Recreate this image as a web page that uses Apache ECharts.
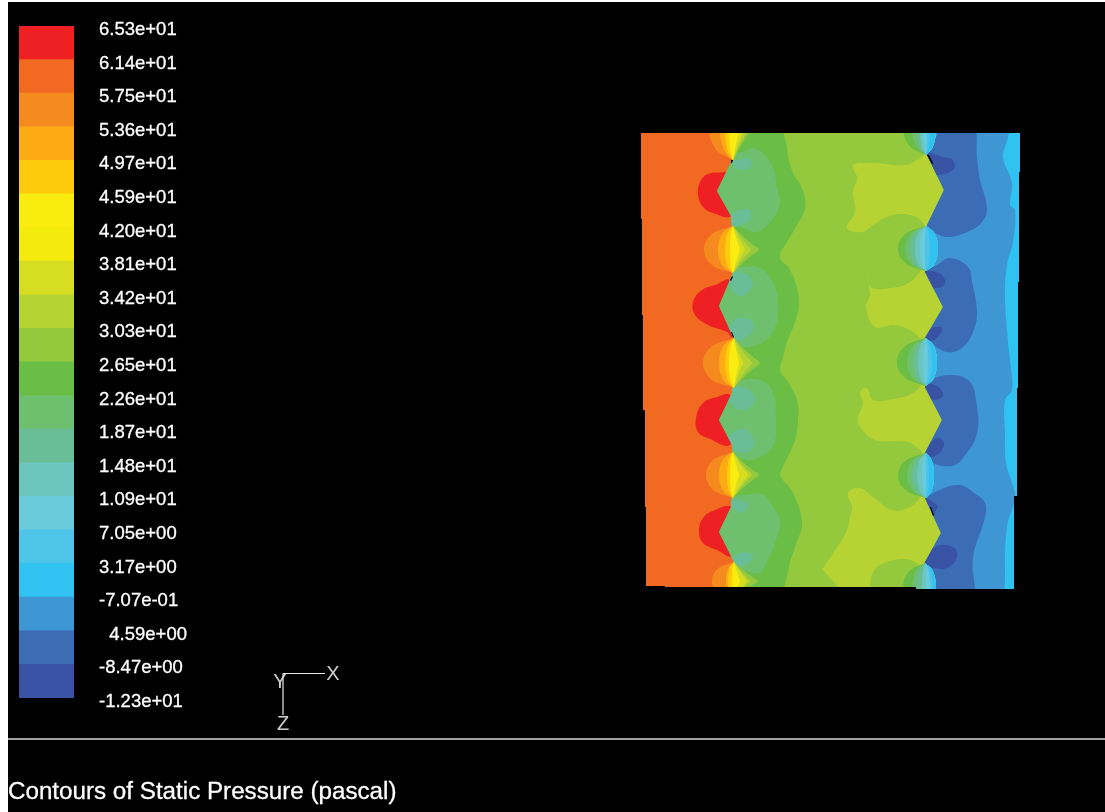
<!DOCTYPE html>
<html><head><meta charset="utf-8">
<style>html,body{margin:0;padding:0;background:#fff;overflow:hidden}
#c{position:absolute;left:8px;top:2px;width:1097px;height:810px}</style>
<script src="https://cdn.jsdelivr.net/npm/echarts@6/dist/echarts.min.js"></script>
</head><body><div id="c"></div>
<script>
// Colour scale, top (level 1) to bottom (level 20)
const levelColors = ['#EF2024','#F26922','#F58B1F','#FDAB14','#FDCB0B','#F9EC0E','#F4EA0D','#D7DE21','#B7D233','#94C83D','#6ABD45','#6EBF6E','#69BE97','#6CC5BE','#69CBDC','#4EC4E8','#30C2F1','#3E96D2','#3C6CB4','#3853A4'];
const tickLabels = ['6.53e+01','6.14e+01','5.75e+01','5.36e+01','4.97e+01','4.59e+01','4.20e+01','3.81e+01','3.42e+01','3.03e+01','2.65e+01','2.26e+01','1.87e+01','1.48e+01','1.09e+01','7.05e+00','3.17e+00','-7.07e-01','\u00a0\u00a04.59e+00','-8.47e+00','-1.23e+01'];
const titleText = 'Contours of Static Pressure (pascal)';

// Contour regions: level, then outline points in the plot's x / y
const domain = [2,[[641,133],[1020,133],[1020,172],[1019,172],[1019,282],[1018,282],[1018,388],[1017,388],[1017,496],[1014,496],[1014,589],[916,589],[916,587],[665,587],[665,586],[646,586],[646,507],[645,507],[645,410],[643,410],[643,315],[642,315],[642,219],[641,219]]];
const lobes = [
 [1,[[731,216],[713,213],[703,207],[698,195],[700,182],[708,174],[725,172],[731,170],[738,190]]],
 [1,[[730,280],[715,285],[702,290],[693,302],[695,315],[708,325],[727,332],[732,337],[738,305]]],
 [1,[[730,395],[717,397],[703,403],[696,418],[698,432],[710,439],[730,445],[738,420]]],
 [1,[[731,507],[715,510],[703,518],[699,532],[703,543],[717,550],[732,556],[738,530]]]
];
const midGreen = [11,[[733,133],[732,160],[717,191],[731,216],[733,248],[732,275],[719,306],[733,337],[733,365],[732,393],[719,420],[732,445],[733,475],[731,507],[719,532],[734,562],[735,587],[850,587],[850,133]]];
const lightGreen = [10,[[787,120],[787,148],[793,173],[802,188],[805,208],[797,225],[787,242],[780,257],[790,270],[797,288],[799,305],[795,322],[787,342],[783,358],[780,370],[788,382],[797,400],[798,420],[795,440],[783,467],[780,475],[793,493],[802,523],[795,547],[789,567],[789,600],[960,600],[960,120]]];
const yellowGreen = [
 [9,[[853,165],[873,163],[905,165],[920,158],[932,150],[960,190],[932,232],[918,218],[900,214],[885,218],[873,225],[862,232],[847,228],[855,212],[853,192],[857,178]]],
 [9,[[867,277],[872,288],[897,287],[910,282],[930,266],[960,307],[930,344],[920,338],[910,330],[893,325],[875,327],[866,307],[870,295]]],
 [9,[[860,392],[867,388],[873,400],[893,399],[913,393],[930,380],[960,420],[930,460],[920,450],[907,442],[875,440],[860,427],[858,418],[863,403]]],
 [9,[[848,493],[860,488],[873,497],[892,510],[910,507],[930,492],[960,533],[930,570],[910,560],[890,561],[873,572],[868,600],[853,600],[823,570],[823,568],[830,558],[842,540],[847,530],[850,517],[852,507]]]
];
// Overshoot to the left of the teeth: the teeth trim them
const diamonds = [
 [12,[[725,155],[742,152],[753,148],[763,153],[773,168],[777,188],[780,203],[772,220],[757,232],[743,228],[725,222],[705,191]]],
 [12,[[725,270],[743,267],[760,268],[773,282],[778,305],[775,328],[763,342],[747,347],[725,342],[705,306]]],
 [12,[[725,385],[743,380],[760,380],[772,390],[776,420],[773,447],[760,457],[747,460],[725,450],[705,420]]],
 [12,[[725,500],[745,495],[763,495],[773,507],[780,520],[775,543],[768,560],[760,573],[750,572],[725,568],[705,532]]]
];
const tealPatches = [
 [13,[[728,156],[738,160],[748,158],[752,165],[742,170],[735,167]]],
 [13,[[728,218],[740,210],[749,210],[751,218],[745,223],[733,226]]],
 [13,[[728,273],[743,273],[753,282],[750,290],[740,296],[731,288]]],
 [13,[[728,329],[738,318],[750,320],[754,328],[745,338],[733,340]]],
 [13,[[726,393],[743,387],[755,398],[747,409],[736,408]]],
 [13,[[728,438],[743,429],[755,442],[747,452],[735,450]]],
 [13,[[728,500],[747,503],[742,513],[733,508]]],
 [13,[[730,560],[745,552],[753,557],[745,565],[735,567]]]
];
const blueBase = [18,[[925,133],[927,155],[944,190],[927,225],[925,248],[925,272],[943,307],[925,338],[925,362],[925,387],[942,420],[925,453],[925,475],[925,498],[941,533],[924,564],[925,589],[1014,589],[1014,496],[1017,496],[1017,388],[1018,388],[1018,282],[1019,282],[1019,172],[1020,172],[1020,133]]];
const skyStrip = [17,[[1017,120],[1005,147],[1003,158],[1012,183],[1010,205],[1015,210],[1013,242],[1007,265],[1005,298],[1008,342],[1010,360],[1012,390],[1005,400],[1005,433],[1006,463],[1012,483],[1015,497],[1007,527],[1005,580],[1007,600],[1040,600],[1040,120]]];
const midBlue = [
 [19,[[948,120],[973,125],[977,158],[980,180],[987,208],[982,222],[967,232],[947,237],[933,232],[910,222],[915,165],[930,148]]],
 [19,[[915,278],[937,265],[950,258],[968,267],[972,282],[977,312],[973,332],[962,348],[947,352],[930,343],[915,335]]],
 [19,[[915,392],[930,380],[953,375],[970,382],[976,400],[977,433],[963,458],[952,466],[930,462],[915,450]]],
 [19,[[915,503],[927,496],[958,485],[977,495],[985,503],[985,517],[973,557],[972,600],[943,600],[930,568],[915,560]]]
];
const darkBlue = [
 [20,[[915,150],[943,157],[953,160],[953,170],[935,175],[915,170]]],
 [20,[[918,272],[937,272],[945,280],[943,286],[932,288],[918,285]]],
 [20,[[918,340],[932,328],[942,328],[937,338],[928,342]]],
 [20,[[918,385],[935,385],[943,395],[935,400],[920,398]]],
 [20,[[918,455],[933,440],[940,438],[944,445],[937,455],[927,457]]],
 [20,[[918,497],[937,505],[935,512],[932,517],[918,510]]],
 [20,[[918,568],[935,547],[953,547],[957,557],[947,568],[933,568]]]
];
// Small unfilled slivers along the teeth
const gaps = [
 [0,[[927,155],[929,155],[933,163],[932,164]]],
 [0,[[930,507],[931,507],[934,515],[933,516]]],
 [0,[[732,276],[733,277],[731,281],[730,280]]],
 [0,[[731,332],[732,332],[734,337],[733,338]]],
 [0,[[731,160],[733,160],[732,163],[731,163]]]
];
// Fans along the row of gaps: top y, bottom y, tip x, bands [level, left extreme, right extreme]
const fanLeft1 = [95,160,733,[[3,709,733],[4,720,733],[5,725,733],[10,733,753],[9,733,749],[8,733,745],[6,729,740]]];
const fanLeft2 = [226,273,733,[[3,704,733],[4,718,733],[5,725,733],[10,733,759],[9,733,751],[8,733,745],[6,730,740]]];
const fanLeft3 = [338,388,734,[[3,703,734],[4,719,734],[5,725,734],[10,734,760],[9,734,752],[8,734,743],[6,729,739]]];
const fanLeft4 = [452,498,733,[[3,706,733],[4,719,733],[5,727,733],[10,733,759],[9,733,752],[8,733,748],[6,730,739]]];
const fanLeft5 = [562,600,734,[[3,712,734],[4,726,734],[5,728,734],[10,734,758],[9,734,750],[8,734,747],[6,732,740]]];
const fanRight1 = [100,155,926,[[11,903,936],[12,912,936],[13,917,936],[14,920,936],[15,923,936],[16,927,936],[17,930,936]]];
const fanRight2 = [226,271,926,[[11,898,938],[12,905,938],[13,910,938],[14,915,938],[15,920,938],[16,925,938],[17,930,938]]];
const fanRight3 = [338,386,926,[[11,897,937],[12,907,937],[13,913,937],[14,918,937],[15,923,937],[16,928,937],[17,932,937]]];
const fanRight4 = [453,498,926,[[11,898,934],[12,907,934],[13,912,934],[14,917,934],[15,922,934],[16,926,934],[17,929,934]]];
const fanRight5 = [563,612,925,[[11,903,936],[12,912,936],[13,917,936],[14,922,936],[15,926,936],[16,930,936],[17,933,936]]];
// Share of a band's width reached along its height
const roundArc = [0,.62,.85,.97,1,.97,.85,.62,0];
const pointArc = [0,.22,.45,.72,1,.72,.45,.22,0];

const triad = [[325,673.5],[283,673.5],[283,715]];
const triadLabels = [[280,682,'Y'],[333,674,'X'],[283,724,'Z']];
const rule = [[8,739],[1105,739]];

function fanRegions(fan, rightArc){
  const [top,bot,tip,bands] = fan, out = [];
  const n = roundArc.length - 1;
  const yAt = i => top + (bot-top)*i/n;
  bands.forEach(([lvl,eL,eR])=>{
    const pts = [];
    roundArc.forEach((s,i)=>pts.push([tip+(eL-tip)*s, yAt(i)]));
    for(let i=n;i>=0;i--) pts.push([tip+(eR-tip)*rightArc[i], yAt(i)]);
    out.push({lvl,pts,smooth:0.3,clip:domain[1]});
  });
  return out;
}
const sharp = r => ({lvl:r[0],pts:r[1],smooth:0,clip:null});
const soft = (r,clip) => ({lvl:r[0],pts:r[1],smooth:0.4,clip:clip?clip[1]:null});
const regions = [
  sharp(domain),
  ...lobes.map(r=>soft(r)),
  sharp(midGreen),
  soft(lightGreen,domain),
  ...yellowGreen.map(r=>soft(r,domain)),
  ...diamonds.map(r=>soft(r,midGreen)),
  ...tealPatches.map(r=>soft(r,midGreen)),
  sharp(blueBase),
  soft(skyStrip,blueBase),
  ...midBlue.map(r=>soft(r,blueBase)),
  ...darkBlue.map(r=>soft(r,blueBase)),
  ...[fanLeft1,fanLeft2,fanLeft3,fanLeft4,fanLeft5].flatMap(f=>fanRegions(f,pointArc)),
  ...[fanRight1,fanRight2,fanRight3,fanRight4,fanRight5].flatMap(f=>fanRegions(f,roundArc)),
  ...gaps.map(sharp)
];

const chart = echarts.init(document.getElementById('c'),null,{renderer:'canvas'});
const font = '"Liberation Sans", Arial, sans-serif';
chart.setOption({
  animation:false, backgroundColor:'#000',
  title:{text:titleText,left:0,top:778,padding:0,textStyle:{color:'#fff',fontFamily:font,fontSize:24.2,fontWeight:'normal',textBorderColor:'#fff',textBorderWidth:0.3}},
  grid:[
    {left:0,top:0,width:1097,height:810},
    {left:11,top:24,width:55,height:672},
    {left:11,top:28,width:55,height:672}
  ],
  xAxis:[
    {gridIndex:0,type:'value',min:8,max:1105,show:false},
    {gridIndex:1,type:'value',min:0,max:1,show:false},
    {gridIndex:2,type:'value',min:0,max:1,show:false}
  ],
  yAxis:[
    {gridIndex:0,type:'value',min:2,max:812,inverse:true,show:false},
    {gridIndex:1,type:'category',inverse:true,data:levelColors.map((c,i)=>i),show:false},
    {gridIndex:2,type:'value',inverse:true,min:0,max:20,interval:1,position:'right',
     axisLine:{show:false},axisTick:{show:false},splitLine:{show:false},
     axisLabel:{show:true,margin:25,align:'left',color:'#fff',fontFamily:font,fontSize:18.5,textBorderColor:'#fff',textBorderWidth:0.3,
       formatter:v=>tickLabels[v]}}
  ],
  series:[
    {type:'custom',xAxisIndex:0,yAxisIndex:0,coordinateSystem:'cartesian2d',silent:true,clip:false,
     data:regions.map((r,i)=>[i]),
     renderItem(params,api){
       const r = regions[api.value(0)];
       const el = {type:'polygon',shape:{points:r.pts.map(p=>api.coord(p)),smooth:r.smooth},
         style:{fill:r.lvl?levelColors[r.lvl-1]:'#000',stroke:null}};
       if(r.clip) el.clipPath = {type:'polygon',shape:{points:r.clip.map(p=>api.coord(p))}};
       return el;
     }},
    {type:'bar',xAxisIndex:1,yAxisIndex:1,barWidth:34.4,silent:true,
     data:levelColors.map(c=>({value:1,itemStyle:{color:c}}))},
    {type:'line',xAxisIndex:0,yAxisIndex:0,data:triad,symbol:'none',silent:true,lineStyle:{color:'#e8e8e8',width:1.2}},
    {type:'line',xAxisIndex:0,yAxisIndex:0,data:rule,symbol:'none',silent:true,lineStyle:{color:'#d8d8d8',width:1.6}},
    {type:'scatter',xAxisIndex:0,yAxisIndex:0,data:triadLabels,symbolSize:0,silent:true,
     label:{show:true,position:'inside',formatter:p=>p.data[2],color:'#fff',fontFamily:font,fontSize:20}}
  ]
});
</script></body></html>
